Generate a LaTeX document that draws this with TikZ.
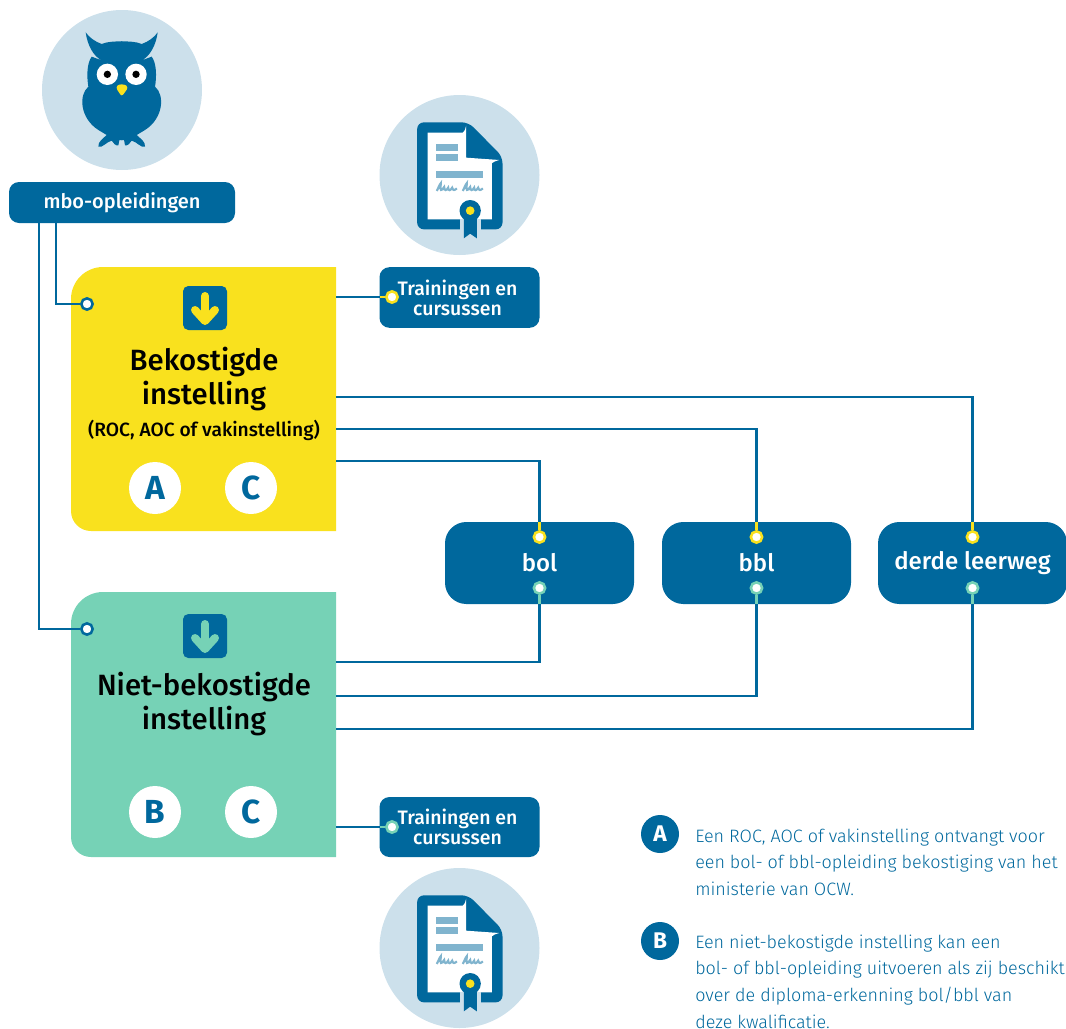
\documentclass[tikz,border=0pt]{standalone}
\usepackage{fontspec}
\setmainfont{Fira Sans}
\newfontfamily\lightfont{Fira Sans Light}
\newfontfamily\medfont{Fira Sans Medium}
\definecolor{rijkblauw}{HTML}{00689D}
\definecolor{rijkgeel}{HTML}{F9E11E}
\definecolor{rijkgroen}{HTML}{76D2B6}
\definecolor{rijklicht}{HTML}{CCE0EB}
\definecolor{rijkbalk}{HTML}{80B4CE}
\tikzset{
	link/.style={rijkblauw,line width=1.9pt},
	linkgeel/.style={rijkgeel,line width=1.9pt},
	linkgroen/.style={rijkgroen,line width=1.9pt},
	dotblauw/.style={circle,draw=rijkblauw,fill=white,line width=1.9pt,inner sep=0pt,minimum size=8.5pt},
	dotgeel/.style={dotblauw,draw=rijkgeel},
	dotgroen/.style={dotblauw,draw=rijkgroen},
	routebox/.style={fill=rijkblauw,text=white,rounded corners=16pt,inner sep=0pt,minimum width=141.75pt,minimum height=61.5pt,font=\medfont\fontsize{18}{20}\selectfont},
	kortbox/.style={fill=rijkblauw,text=white,rounded corners=7.5pt,inner sep=0pt,align=center},
	instbox/.style={inner sep=0pt,minimum width=198.75pt,minimum height=198.75pt},
	titel/.style={align=center,text=black,font=\medfont\fontsize{22}{25.5}\selectfont},
	letter/.style={circle,fill=white,text=rijkblauw,inner sep=0pt,minimum size=39pt,font=\fontsize{25}{25}\selectfont\bfseries},
	legletter/.style={circle,fill=rijkblauw,text=white,inner sep=0pt,minimum size=28.5pt,font=\fontsize{17}{17}\selectfont\bfseries},
	legenda/.style={anchor=north west,inner sep=0pt,align=left,text=rijkblauw,font=\lightfont\fontsize{13.45}{20}\selectfont},
	pics/pijlicon/.style={code={
		\fill[rijkblauw,rounded corners=4pt] (-22,-22) rectangle (22,22);
		\draw[#1,line width=6pt,line cap=round] (0,-12) -- (0,12);
		\draw[#1,line width=6pt,line cap=round,line join=round] (-10,2) -- (0,13) -- (10,2);
	}},
	pics/diploma/.style={code={
		\fill[rijklicht] (0,0) circle (240);
		\fill[rijkblauw,rounded corners=5pt] (-127,-158) -- (27,-158) -- (129,-55) -- (129,163) -- (-127,163) -- cycle;
		\fill[white] (-96,-127) -- (10,-127) .. controls (15,-130) and (18,-138) .. (20,-148) -- (20,-52) -- (119,-45) .. controls (110,-42) and (100,-40) .. (97,-35) -- (97,133) -- (-96,133) -- cycle;
		\fill[rijkbalk] (-70,-93) rectangle (-4,-72);
		\fill[rijkbalk] (-70,-62) rectangle (-4,-41);
		\fill[rijkbalk] (-70,-12) rectangle (71,9);
		\foreach \sx in {-68,10} {
			\draw[rijkbalk,line width=1.6pt] (\sx,48) .. controls (\sx+8,30) and (\sx+14,18) .. (\sx+12,28) .. controls (\sx+8,48) and (\sx+14,50) .. (\sx+22,36) .. controls (\sx+22,50) and (\sx+30,46) .. (\sx+34,38) .. controls (\sx+34,50) and (\sx+42,46) .. (\sx+46,38) .. controls (\sx+48,48) and (\sx+54,46) .. (\sx+60,40);
		}
		\fill[white] (0,125) rectangle (65,170);
		\fill[rijklicht] (0,133) rectangle (65,170);
		\fill[rijkblauw] (13,100) -- (52,100) -- (52,190) -- (32,176) -- (13,190) -- cycle;
		\fill[rijkblauw] (32,107) circle (32);
		\fill[rijkgeel] (32,107) circle (13);
	}},
}
\begin{document}
\begin{tikzpicture}[x=0.75pt,y=-0.75pt]
	\path[use as bounding box] (0,0) rectangle (1066,1028);
	\clip (0,0) rectangle (1066,1028);

	% uil
	\fill[rijklicht] (122,90) circle (80);
	\begin{scope}[shift={(121.7,90)},scale=1/3]
		\foreach \s in {1,-1} {
			\begin{scope}[xscale=\s]
				\fill[rijkblauw] (2,-146) .. controls (-20,-146) and (-45,-145) .. (-60,-138)
					.. controls (-80,-145) and (-98,-158) .. (-108,-173)
					.. controls (-103,-135) and (-85,-100) .. (-58,-88) -- (-90,-100)
					.. controls (-105,-80) and (-105,-40) .. (-100,-10)
					.. controls (-130,15) and (-125,85) .. (-70,120) -- (-45,135)
					.. controls (-55,145) and (-72,155) .. (-70,170)
					.. controls (-60,176) and (-45,155) .. (-30,152)
					.. controls (-25,160) and (-18,168) .. (-10,166)
					-- (-7,150) -- (2,150) -- cycle;
			\end{scope}
		}
		\fill[white] (-43,-47) circle (32);
		\fill[white] (43,-47) circle (32);
		\fill[black] (-43,-47) circle (11);
		\fill[black] (43,-47) circle (11);
		\fill[rijkgeel,rounded corners=2pt] (-18,-8) .. controls (-8,-18) and (8,-18) .. (20,-8) -- (0,20) -- cycle;
	\end{scope}

	% diploma's
	\pic[scale=1/3] at (459.5,175) {diploma};
	\pic[scale=1/3] at (459.5,948) {diploma};

	% instellingen
	\fill[rijkgeel] (336,267) [rounded corners=24pt] -- (71,267) [rounded corners=15pt] -- (71,531) [sharp corners] -- (336,531) -- cycle;
	\fill[rijkgroen] (336,592) [rounded corners=24pt] -- (71,592) [rounded corners=15pt] -- (71,857) [sharp corners] -- (336,857) -- cycle;
	\node[instbox] (bek) at (203.5,399) {};
	\node[instbox] (niet) at (203.5,724.5) {};
	\pic at (205,308) {pijlicon=rijkgeel};
	\pic at (205,636) {pijlicon=rijkgroen};
	\node[titel] (bektitel) at (204,379) {Bekostigde\\instelling};
	\node[text=black,font=\medfont\fontsize{14.4}{15}\selectfont] (bekroc) at (204,430) {(ROC, AOC of vakinstelling)};
	\node[titel] (niettitel) at (204,703.5) {Niet-bekostigde\\instelling};
	\node[letter] (bekA) at (155,488) {A};
	\node[letter] (bekC) at (251,488) {C};
	\node[letter] (nietB) at (155,812) {B};
	\node[letter] (nietC) at (251,812) {C};

	% kaders
	\node[kortbox,minimum width=169.5pt,minimum height=30.75pt,font=\medfont\fontsize{15}{16}\selectfont] (mbo) at (122,202.5) {mbo-opleidingen};
	\node[kortbox,minimum width=120pt,minimum height=45.5pt,font=\medfont\fontsize{14.6}{15}\selectfont] (train) at (459.5,297.5) {\hspace*{-3pt}Trainingen en\\\hspace*{-3pt}cursussen};
	\node[kortbox,minimum width=120pt,minimum height=45pt,font=\medfont\fontsize{14.6}{15}\selectfont] (trainb) at (459.5,827) {\hspace*{-3pt}Trainingen en\\\hspace*{-3pt}cursussen};
	\node[routebox] (bol) at (539.5,563) {bol};
	\node[routebox] (bbl) at (756.5,563) {bbl};
	\node[routebox] (derde) at (972.5,563) {derde leerweg};

	% punten
	\node[dotblauw] (bekin) at (87,304) {};
	\node[dotblauw] (nietin) at (87,629) {};
	\node[dotgeel] (trainpunt) at (392,297) {};
	\node[dotgroen] (trainbpunt) at (392,827) {};
	\node[dotgeel] (boltop) at (539.5,537) {};
	\node[dotgeel] (bbltop) at (756.5,537) {};
	\node[dotgeel] (derdetop) at (972.5,537) {};
	\node[dotgroen] (bolbot) at (539.5,588) {};
	\node[dotgroen] (bblbot) at (756.5,588) {};
	\node[dotgroen] (derdebot) at (972.5,588) {};

	% vertrekpunten
	\coordinate (mbolinks) at (39,223);
	\coordinate (mborechts) at (56,223);
	\coordinate (bektrain) at (336,297);
	\coordinate (bekderde) at (336,397);
	\coordinate (bekbbl) at (336,429);
	\coordinate (bekbol) at (336,461);
	\coordinate (nietbol) at (336,662);
	\coordinate (nietbbl) at (336,696);
	\coordinate (nietderde) at (336,729);
	\coordinate (niettrain) at (336,827);
	\coordinate (trainrand) at (380,297);
	\coordinate (trainbrand) at (380,827);

	% lijnen
	\draw[link] (mborechts) |- (bekin);
	\draw[link] (mbolinks) |- (nietin);
	\draw[link] (bektrain) -- (trainrand);
	\draw[linkgeel] (trainrand) -- (trainpunt);
	\draw[link] (niettrain) -- (trainbrand);
	\draw[linkgroen] (trainbrand) -- (trainbpunt);
	\draw[link] (bekbol) -| (bol.north);
	\draw[link] (bekbbl) -| (bbl.north);
	\draw[link] (bekderde) -| (derde.north);
	\draw[link] (nietbol) -| (bol.south);
	\draw[link] (nietbbl) -| (bbl.south);
	\draw[link] (nietderde) -| (derde.south);
	\draw[linkgeel] (bol.north) -- (boltop);
	\draw[linkgeel] (bbl.north) -- (bbltop);
	\draw[linkgeel] (derde.north) -- (derdetop);
	\draw[linkgroen] (bol.south) -- (bolbot);
	\draw[linkgroen] (bbl.south) -- (bblbot);
	\draw[linkgroen] (derde.south) -- (derdebot);

	% legenda
	\node[legletter] (legA) at (660,834) {A};
	\node[legletter] (legB) at (660,941) {B};
	\node[legenda] (legAtekst) at (695,828.5) {Een ROC, AOC of vakinstelling ontvangt voor\\een bol- of bbl-opleiding bekostiging van het\\ministerie van OCW.};
	\node[legenda] (legBtekst) at (695,934.5) {Een niet-bekostigde instelling kan een\\bol- of bbl-opleiding uitvoeren als zij beschikt\\over de diploma-erkenning bol/bbl van\\deze kwalificatie.};
\end{tikzpicture}
\end{document}
